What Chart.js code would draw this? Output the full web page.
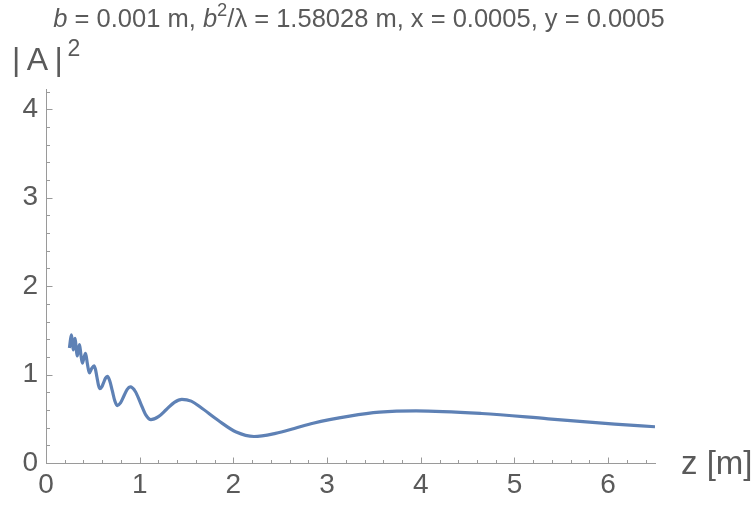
<!DOCTYPE html>
<html lang="en">
<head>
<meta charset="UTF-8">
<title>|A|^2 along z</title>
<script src="https://cdn.jsdelivr.net/npm/chart.js"></script>
<style>
  html, body { margin: 0; padding: 0; background: #fff; }
  #wrap { position: relative; width: 754px; height: 506px; font-family: "Liberation Sans", Arial, sans-serif; color: #5a5a5a; }
  #plot { position: absolute; left: 0; top: 0; }
  .lbl { position: absolute; white-space: nowrap; line-height: 1; }
  #title { left: 0; width: 718px; top: 6px; text-align: center; font-size: 25.5px; }
  #ylab { left: 12px; top: 43px; font-size: 32px; }
  #xlab { left: 681px; top: 446px; font-size: 33px; }
  sup { font-size: 0.72em; vertical-align: 0.6em; line-height: 0; }
</style>
</head>
<body>
<div id="wrap">
  <canvas id="plot" width="754" height="506"></canvas>
  <div id="title" class="lbl"><i>b</i> = 0.001 m, <i>b</i><sup>2</sup>/λ = 1.58028 m, x = 0.0005, y = 0.0005</div>
  <div id="ylab" class="lbl">|&#8201;A&#8201;|<sup>&#8201;2</sup></div>
  <div id="xlab" class="lbl">z [m]</div>
</div>
<script>
// values
const zValues = [
  0.250, 0.262, 0.272, 0.283, 0.292, 0.302, 0.311, 0.322, 0.333, 0.345,
  0.358, 0.373, 0.388, 0.405, 0.422, 0.442, 0.463, 0.488, 0.513, 0.528,
  0.544, 0.560, 0.575, 0.595, 0.615, 0.635, 0.655, 0.680, 0.708, 0.735,
  0.760, 0.795, 0.830, 0.865, 0.900, 0.955, 1.010, 1.065, 1.120, 1.200,
  1.285, 1.370, 1.450, 1.550, 1.650, 1.840, 2.030, 2.220, 2.450, 2.650,
  2.850, 3.240, 3.560, 3.950, 4.650, 5.360, 6.070, 6.500
];
const intensity = [
  1.30, 1.40, 1.45, 1.35, 1.28, 1.36, 1.41, 1.30, 1.21, 1.28,
  1.34, 1.22, 1.13, 1.19, 1.24, 1.12, 1.02, 1.07, 1.10, 1.06,
  0.97, 0.88, 0.84, 0.86, 0.91, 0.96, 0.98, 0.93, 0.815, 0.70,
  0.65, 0.68, 0.755, 0.83, 0.86, 0.806, 0.675, 0.544, 0.49, 0.524,
  0.605, 0.686, 0.72, 0.70, 0.63, 0.48, 0.35, 0.30, 0.335, 0.39,
  0.45, 0.53, 0.575, 0.59, 0.56, 0.50, 0.44, 0.41
];
const xTicks = [0, 1, 2, 3, 4, 5, 6];
const yTicks = [0, 1, 2, 3, 4];

const axisColor = '#9a9a9a';
const labelColor = '#5a5a5a';
const lineColor = '#5e81b5';
const fontFamily = '"Liberation Sans", Arial, sans-serif';

// Mathematica style ticks: inside the frame, 4 minor ticks between majors
const inwardTicks = {
  id: 'inwardTicks',
  afterDraw(chart) {
    const { ctx, scales: { x, y } } = chart;
    const x0 = Math.round(x.getPixelForValue(0)) + 0.5;
    const y0 = Math.round(y.getPixelForValue(0)) + 0.5;
    ctx.save();
    ctx.strokeStyle = axisColor;
    ctx.lineWidth = 1;
    ctx.beginPath();
    const xStep = (xTicks[1] - xTicks[0]) / 5;
    for (let i = 1; i * xStep <= x.max + 1e-9; i++) {
      const px = Math.round(x.getPixelForValue(i * xStep)) + 0.5;
      const len = i % 5 === 0 ? 6 : 3.5;
      ctx.moveTo(px, y0);
      ctx.lineTo(px, y0 - len);
    }
    const yStep = (yTicks[1] - yTicks[0]) / 5;
    for (let i = 1; i * yStep <= y.max + 1e-9; i++) {
      const py = Math.round(y.getPixelForValue(i * yStep)) + 0.5;
      const len = i % 5 === 0 ? 6 : 3.5;
      ctx.moveTo(x0, py);
      ctx.lineTo(x0 + len, py);
    }
    ctx.stroke();
    ctx.restore();
  }
};

const points = zValues.map((z, i) => ({ x: z, y: intensity[i] }));

new Chart(document.getElementById('plot'), {
  type: 'line',
  data: {
    datasets: [{
      data: points,
      borderColor: lineColor,
      borderWidth: 3.2,
      pointRadius: 0,
      fill: false,
      cubicInterpolationMode: 'monotone'
    }]
  },
  options: {
    responsive: false,
    animation: false,
    devicePixelRatio: 1,
    layout: { padding: { top: 89, right: 99, left: 0, bottom: 0 } },
    plugins: { legend: { display: false }, tooltip: { enabled: false } },
    scales: {
      x: {
        type: 'linear',
        min: 0,
        max: 6.5,
        afterBuildTicks: s => { s.ticks = xTicks.map(v => ({ value: v })); },
        afterFit: s => { s.height = 43; },
        grid: { display: false, drawTicks: false },
        border: { display: true, color: axisColor, width: 1 },
        ticks: { color: labelColor, font: { family: fontFamily, size: 28 }, padding: 5, maxRotation: 0, autoSkip: false }
      },
      y: {
        type: 'linear',
        min: 0,
        max: 4.23,
        afterBuildTicks: s => { s.ticks = yTicks.map(v => ({ value: v })); },
        afterFit: s => { s.width = 46; },
        grid: { display: false, drawTicks: false },
        border: { display: true, color: axisColor, width: 1 },
        ticks: { color: labelColor, font: { family: fontFamily, size: 28 }, padding: 8, autoSkip: false }
      }
    }
  },
  plugins: [inwardTicks]
});
</script>
</body>
</html>
